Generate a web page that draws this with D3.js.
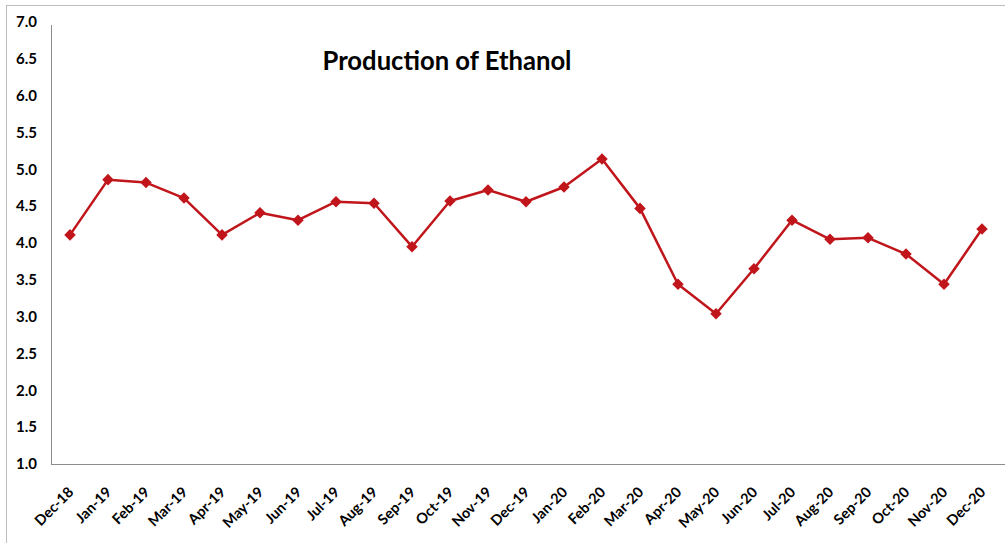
<!DOCTYPE html>
<html><head><meta charset="utf-8">
<script src="https://cdn.jsdelivr.net/npm/d3@7"></script>
<style>body{margin:0;background:#fff;} svg{display:block;}</style>
</head><body>
<svg id="c" width="1005" height="543"></svg>
<script>
const categories = ["Dec-18","Jan-19","Feb-19","Mar-19","Apr-19","May-19","Jun-19","Jul-19","Aug-19","Sep-19","Oct-19","Nov-19","Dec-19","Jan-20","Feb-20","Mar-20","Apr-20","May-20","Jun-20","Jul-20","Aug-20","Sep-20","Oct-20","Nov-20","Dec-20"];
const production = [4.11,4.86,4.82,4.61,4.11,4.41,4.31,4.56,4.54,3.95,4.57,4.72,4.56,4.76,5.14,4.47,3.44,3.04,3.65,4.31,4.05,4.07,3.85,3.44,4.19];
const yTicks = [1.0,1.5,2.0,2.5,3.0,3.5,4.0,4.5,5.0,5.5,6.0,6.5,7.0];
const title = "Production of Ethanol";

const svg = d3.select("#c");
const font = "Lato, 'Open Sans', sans-serif";
// outer frame
svg.append("rect").attr("x",6.5).attr("y",5.5).attr("width",1100).attr("height",600)
  .attr("fill","none").attr("stroke","#bdbdbd").attr("stroke-width",1);

const mLeft = 51, mRight = 1001, mTop = 22, mBottom = 464;
const x = d3.scalePoint().domain(categories).range([mLeft, mRight]).padding(0.5);
const y = d3.scaleLinear().domain([1,7]).range([mBottom, mTop]);

// y axis
const ya = svg.append("g").attr("transform",`translate(${mLeft},0)`)
  .call(d3.axisLeft(y).tickValues(yTicks).tickFormat(d3.format(".1f")).tickSize(0).tickPadding(14));
ya.select(".domain").attr("stroke","#8c8c8c").attr("d",`M0.5,${y(6.96)}V${mBottom}`);
ya.selectAll("text").attr("font-family",font).attr("font-weight","bold").attr("font-size","15px").attr("fill","#000");

// x axis
const xa = svg.append("g").attr("transform",`translate(0,${mBottom})`)
  .call(d3.axisBottom(x).tickSize(0).tickPadding(0));
xa.select(".domain").attr("stroke","#8c8c8c").attr("d",`M${mLeft},0.5H1005`);
xa.selectAll("text").attr("font-family",font).attr("font-weight","bold").attr("font-size","14.5px").attr("fill","#000")
  .attr("text-anchor","end").attr("dy","0").attr("y",0)
  .attr("transform",d=>`translate(4,29) rotate(-45)`);

// line
const line = d3.line().x((d,i)=>x(categories[i])).y(d=>y(d));
svg.append("path").datum(production).attr("d",line).attr("fill","none")
  .attr("stroke","#c0161b").attr("stroke-width",2.5).attr("stroke-linejoin","round");

// markers
svg.selectAll(".m").data(production).enter().append("path")
  .attr("transform",(d,i)=>`translate(${x(categories[i])},${y(d)})`)
  .attr("d",d3.symbol().type(d3.symbolDiamond2).size(85))
  .attr("fill","#c0161b");

// title
svg.append("text").attr("x",447).attr("y",70).attr("text-anchor","middle")
  .attr("font-family",font).attr("font-weight","bold").attr("font-size","27px").attr("fill","#000")
  .attr("textLength",249).attr("lengthAdjust","spacingAndGlyphs")
  .text(title);
</script>
</body></html>
